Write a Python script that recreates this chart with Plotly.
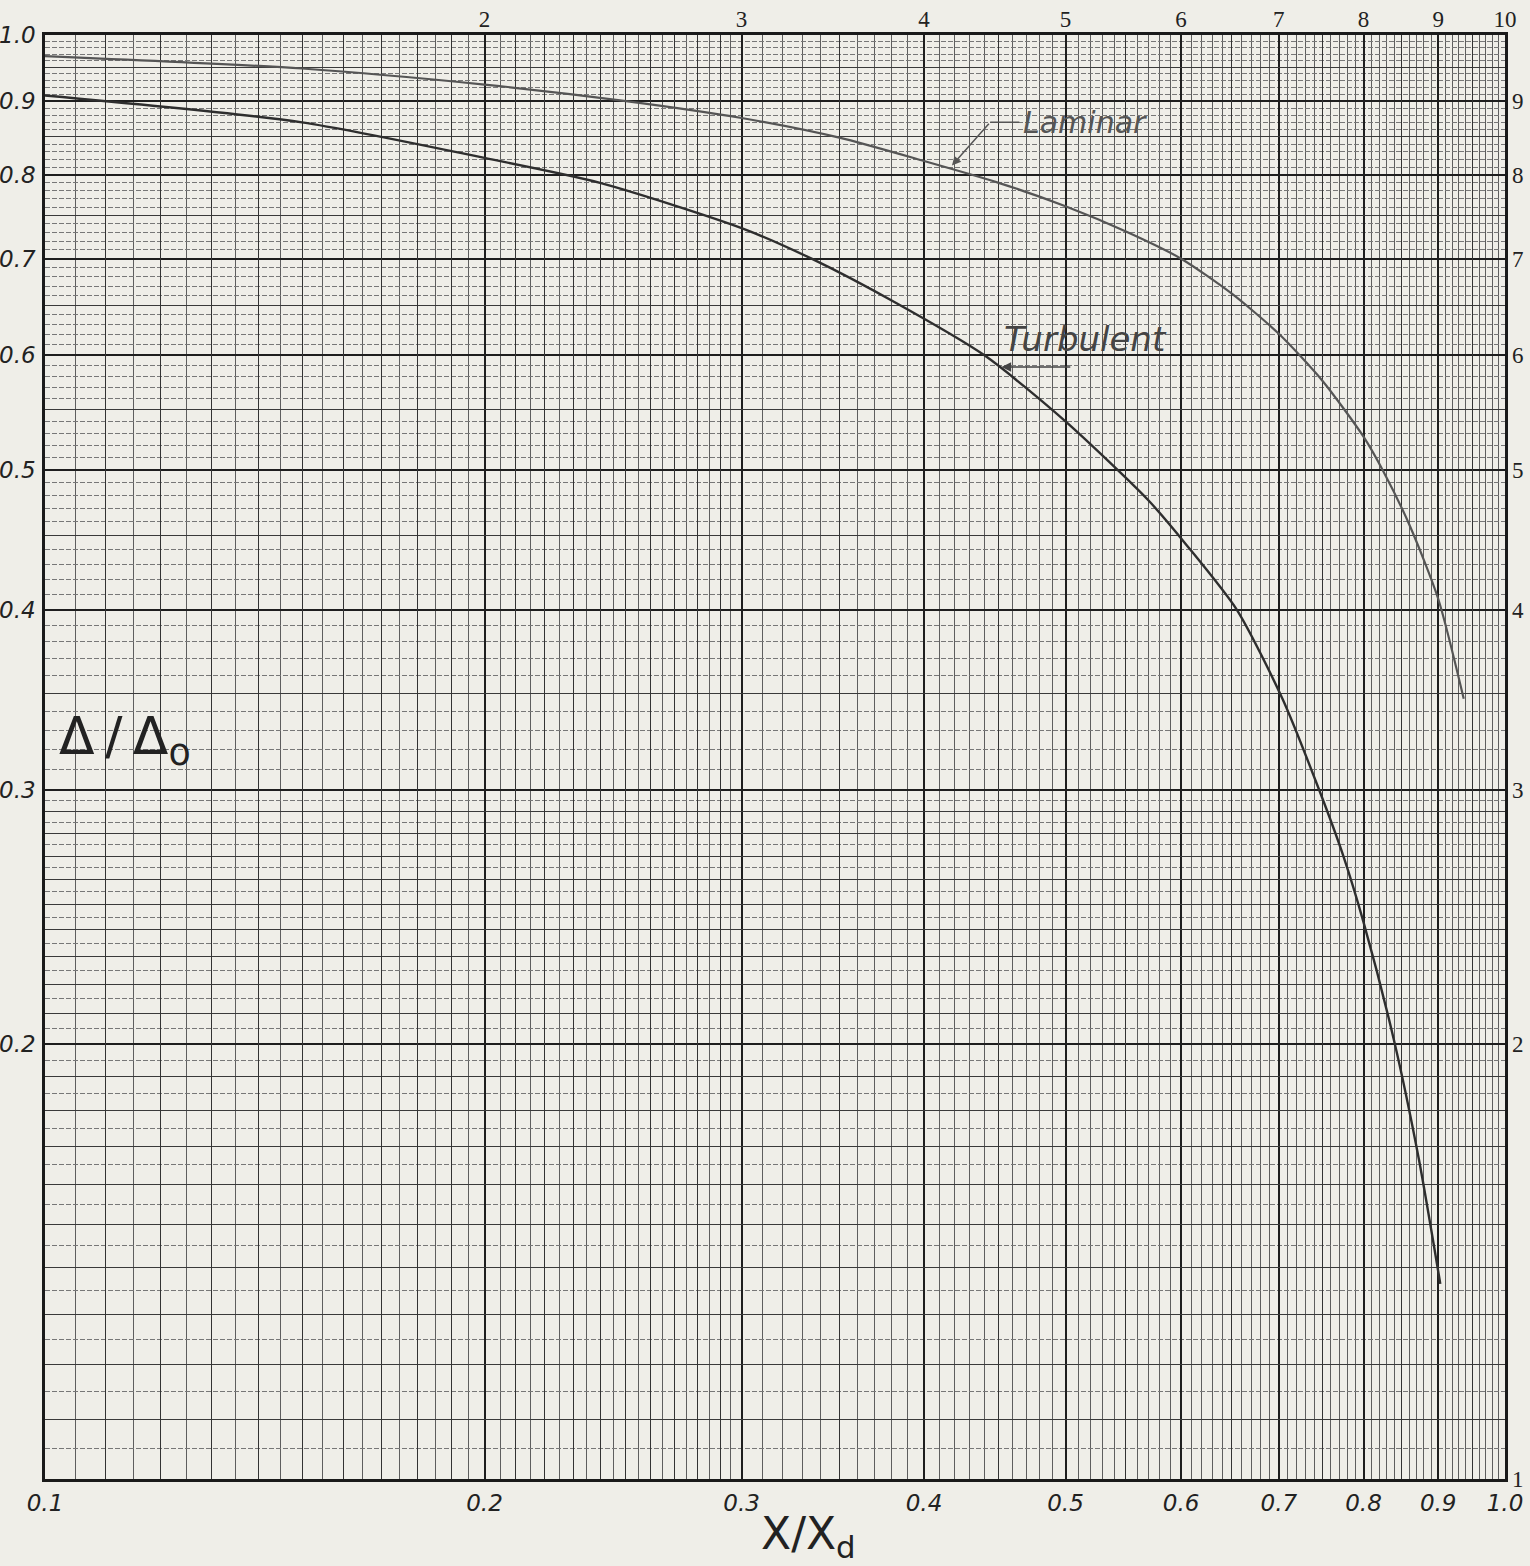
import numpy as np
import plotly.graph_objects as go

# ---- data ----
laminar_x = [0.10, 0.15, 0.20, 0.25, 0.30, 0.35, 0.40, 0.45, 0.50, 0.55, 0.60, 0.65,
             0.70, 0.75, 0.80, 0.826, 0.86, 0.90, 0.937]
laminar_y = [0.967, 0.948, 0.924, 0.900, 0.876, 0.849, 0.818, 0.790, 0.761, 0.731, 0.700, 0.662,
             0.621, 0.576, 0.527, 0.498, 0.458, 0.407, 0.347]

turbulent_x = [0.10, 0.15, 0.20, 0.24, 0.30, 0.335, 0.382, 0.44, 0.50, 0.57, 0.6045, 0.655,
               0.704, 0.746, 0.775, 0.80, 0.839, 0.873, 0.903]
turbulent_y = [0.908, 0.870, 0.822, 0.790, 0.735, 0.700, 0.653, 0.600, 0.540, 0.476, 0.444, 0.400,
               0.347, 0.300, 0.270, 0.243, 0.2017, 0.1665, 0.1365]

major_vals = [0.1, 0.2, 0.3, 0.4, 0.5, 0.6, 0.7, 0.8, 0.9, 1.0]
bottom_labels = ["0.1", "0.2", "0.3", "0.4", "0.5", "0.6", "0.7", "0.8", "0.9", "1.0"]
left_labels = ["", "0.2", "0.3", "0.4", "0.5", "0.6", "0.7", "0.8", "0.9", "1.0"]
top_labels = ["", "2", "3", "4", "5", "6", "7", "8", "9", "10"]
right_labels = ["1", "2", "3", "4", "5", "6", "7", "8", "9", ""]

# label / leader anchor points (data units)
laminar_text_pos = (0.466, 0.870)
laminar_corner = (0.444, 0.870)
laminar_tip = (0.418, 0.812)
turbulent_text_pos = (0.452, 0.616)
turbulent_tail = (0.505, 0.589)
turbulent_tip = (0.452, 0.589)
ylabel_pos = (0.008, 0.325)  # x in paper, y in data

# ---- graph-paper rulings ----
medium_grid = [round(v, 3) for v in np.arange(0.11, 0.2999, 0.01) if abs(v - 0.2) > 1e-6]
medium_grid += [round(v, 3) for v in np.arange(0.35, 0.96, 0.1)]
fine_grid = [round(v, 3) for v in np.arange(0.105, 0.2999, 0.01)]
fine_grid += [round(v, 3) for v in np.arange(0.31, 0.995, 0.01)
              if abs(round(v * 100) % 5) != 0]

PAPER = "#efeee8"
RANGE = [-1, 0]
L = np.log10

fig = go.Figure()
fig.add_trace(go.Scatter(x=laminar_x, y=laminar_y, mode="lines", name="Laminar",
                         line=dict(color="#555555", width=2.2, shape="spline", smoothing=0.7),
                         showlegend=False))
fig.add_trace(go.Scatter(x=turbulent_x, y=turbulent_y, mode="lines", name="Turbulent",
                         line=dict(color="#2e2e2e", width=2.4, shape="spline", smoothing=0.7),
                         showlegend=False))
# empty helper traces so the overlay axes form subplots
for xa, ya in [("x2", "y"), ("x", "y2"), ("x3", "y"), ("x", "y3")]:
    fig.add_trace(go.Scatter(x=[], y=[], xaxis=xa, yaxis=ya, showlegend=False, hoverinfo="skip"))

hand_font = dict(family="DejaVu Sans", size=23, color="#222", style="italic")
type_font = dict(family="Liberation Serif", size=23, color="#222")

fig.update_layout(
    width=1530, height=1566,
    margin=dict(l=45, r=25, t=35, b=87),
    paper_bgcolor=PAPER, plot_bgcolor=PAPER,
    showlegend=False,
    xaxis=dict(type="log", range=RANGE, tickmode="array", tickvals=major_vals, ticktext=bottom_labels,
               tickfont=hand_font, ticks="", ticklabelstandoff=2, automargin=False,
               showgrid=True, gridcolor="#1e1e1e", gridwidth=2.2,
               showline=True, linecolor="#1a1a1a", linewidth=2.5, mirror=True,
               minor=dict(tickmode="array", tickvals=fine_grid, showgrid=True,
                          gridcolor="#5e5e5e", gridwidth=1, ticks=""),
               zeroline=False),
    yaxis=dict(type="log", range=RANGE, tickmode="array", tickvals=major_vals, ticktext=left_labels,
               tickfont=hand_font, ticks="", ticklabelstandoff=2, automargin=False,
               showgrid=True, gridcolor="#1e1e1e", gridwidth=2.2,
               showline=True, linecolor="#1a1a1a", linewidth=2.5, mirror=True,
               minor=dict(tickmode="array", tickvals=fine_grid, showgrid=True,
                          gridcolor="#777777", gridwidth=1, griddash="5px,2px", ticks=""),
               zeroline=False),
    xaxis2=dict(type="log", range=RANGE, overlaying="x", anchor="y", tickmode="array",
                tickvals=medium_grid, showticklabels=False, ticks="", automargin=False,
                showgrid=True, gridcolor="#333333", gridwidth=1.3, zeroline=False, showline=False),
    yaxis2=dict(type="log", range=RANGE, overlaying="y", anchor="x", tickmode="array",
                tickvals=medium_grid, showticklabels=False, ticks="", automargin=False,
                showgrid=True, gridcolor="#3a3a3a", gridwidth=1.3, zeroline=False, showline=False),
    xaxis3=dict(type="log", range=RANGE, overlaying="x", anchor="y", side="top", tickmode="array",
                tickvals=major_vals, ticktext=top_labels, tickfont=type_font, ticks="",
                ticklabelstandoff=2, automargin=False, showgrid=False, zeroline=False, showline=False),
    yaxis3=dict(type="log", range=RANGE, overlaying="y", anchor="x", side="right", tickmode="array",
                tickvals=major_vals, ticktext=right_labels, tickfont=type_font, ticks="",
                ticklabelstandoff=6, automargin=False, showgrid=False, zeroline=False, showline=False),
)

ann_font_lam = dict(family="DejaVu Sans", size=30, color="#555", style="italic")
ann_font_tur = dict(family="DejaVu Sans", size=34, color="#444", style="italic")

fig.add_annotation(x=L(laminar_text_pos[0]), y=L(laminar_text_pos[1]), xref="x", yref="y",
                   text="Laminar", showarrow=False, xanchor="left", yanchor="middle",
                   font=ann_font_lam)
fig.add_annotation(x=L(laminar_corner[0]), y=L(laminar_corner[1]), xref="x", yref="y",
                   ax=L(laminar_text_pos[0]), ay=L(laminar_text_pos[1]), axref="x", ayref="y",
                   text="", showarrow=True, arrowhead=0, arrowwidth=1.5, arrowcolor="#555",
                   standoff=0, startstandoff=0)
fig.add_annotation(x=L(laminar_tip[0]), y=L(laminar_tip[1]), xref="x", yref="y",
                   ax=L(laminar_corner[0]), ay=L(laminar_corner[1]), axref="x", ayref="y",
                   text="", showarrow=True, arrowhead=2, arrowsize=1.2, arrowwidth=1.5,
                   arrowcolor="#555", standoff=0, startstandoff=0)

fig.add_annotation(x=L(turbulent_text_pos[0]), y=L(turbulent_text_pos[1]), xref="x", yref="y",
                   text="Turbulent", showarrow=False, xanchor="left", yanchor="middle",
                   font=ann_font_tur)
fig.add_annotation(x=L(turbulent_tip[0]), y=L(turbulent_tip[1]), xref="x", yref="y",
                   ax=L(turbulent_tail[0]), ay=L(turbulent_tail[1]), axref="x", ayref="y",
                   text="", showarrow=True, arrowhead=2, arrowsize=1.2, arrowwidth=1.6,
                   arrowcolor="#444", standoff=0, startstandoff=0)

fig.add_annotation(x=ylabel_pos[0], y=L(ylabel_pos[1]), xref="paper", yref="y",
                   text="Δ\u2009/\u2009Δ<sub>o</sub>", showarrow=False, xanchor="left", yanchor="middle",
                   font=dict(family="DejaVu Sans", size=52, color="#222"))

fig.add_annotation(x=0.523, y=-0.040, xref="paper", yref="paper",
                   text="X/X<sub>d</sub>", showarrow=False, xanchor="center", yanchor="middle",
                   font=dict(family="DejaVu Sans", size=44, color="#222"))

fig.write_html("out.html", config={"displayModeBar": False},
               post_script="document.body.style.margin='0';document.body.style.overflow='hidden';")
